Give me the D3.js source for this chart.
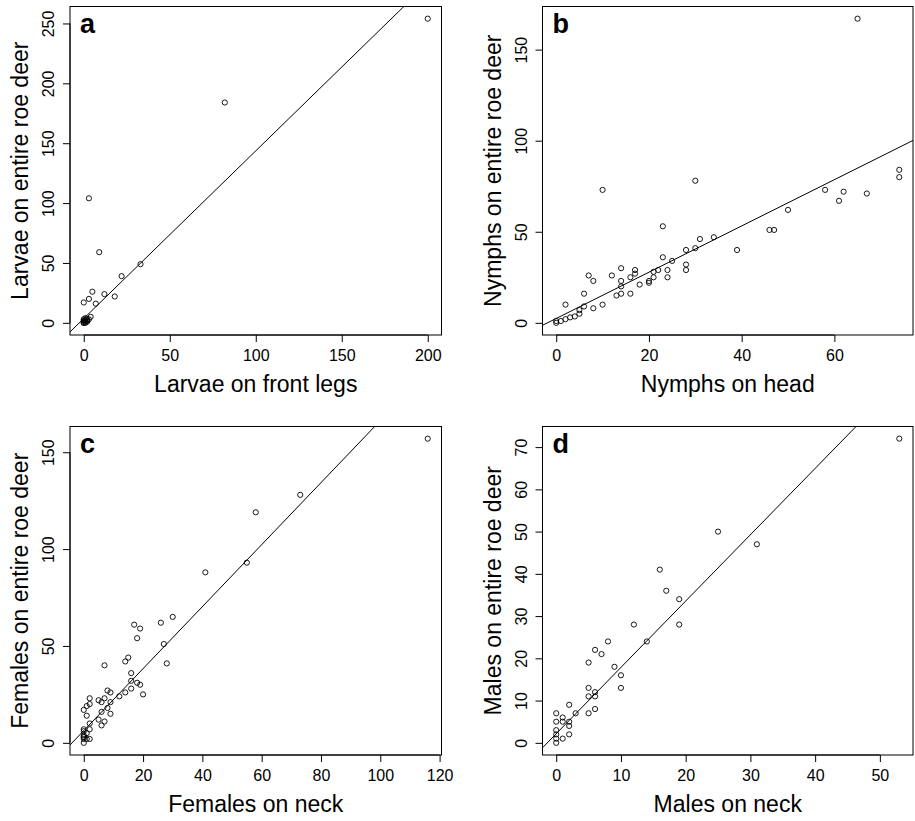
<!DOCTYPE html>
<html>
<head>
<meta charset="utf-8">
<script src="https://cdn.jsdelivr.net/npm/d3@7"></script>
<style>
  html, body { margin: 0; padding: 0; background: #fff; }
  svg { display: block; }
  text { font-family: "Liberation Sans", Arial, Helvetica, sans-serif; fill: #000; }
</style>
</head>
<body>
<svg id="chart" width="915" height="821"></svg>
<script>
// ---------- data ----------
const larvaeFront = [200, 82, 3, 9, 33, 22, 5, 12, 18, 3, 0, 7, 4,
  0, 0, 1, 1, 0, 1, 2, 0, 2, 1, 2, 0, 3];
const larvaeTotal = [254, 184, 104, 59, 49, 39, 26, 24, 22, 20, 17, 16, 5,
  0, 1, 0, 1, 2, 2, 2, 3, 3, 4, 1, 0, 3];

const nymphHead = [65, 10, 30, 74, 74, 58, 62, 61, 67, 50, 46, 47, 39, 34, 31, 30, 28, 28, 28, 23,
  23, 25, 24, 24, 22, 21, 21, 20, 20, 18, 17, 17, 16, 16, 14, 14, 14, 14, 13, 12,
  10, 7, 8, 8, 6, 6, 5, 5, 4, 3, 2, 2, 1, 0, 0];
const nymphTotal = [167, 73, 78, 84, 80, 73, 72, 67, 71, 62, 51, 51, 40, 47, 46, 41, 40, 32, 29, 53,
  36, 34, 29, 25, 29, 28, 25, 23, 22, 21, 29, 27, 25, 16, 30, 23, 20, 16, 15, 26,
  10, 26, 23, 8, 16, 9, 7, 5, 3.5, 3, 10, 2, 1, 0, 1];

const femaleNeck = [116, 73, 58, 41, 55, 30, 26, 17, 19, 18, 27, 28, 7, 14, 15, 16, 16, 16, 18, 19,
  20, 14, 12, 8, 9, 9, 8, 9, 7, 5, 6, 6, 5, 7, 6, 2, 2, 1, 0, 1,
  2, 2, 2, 0, 0, 0, 0, 0, 0, 0, 1, 1];
const femaleTotal = [157, 128, 119, 88, 93, 65, 62, 61, 59, 54, 51, 41, 40, 42, 44, 36, 32, 28, 31, 30,
  25, 26, 24, 27, 26, 21, 18, 15, 23, 22, 21, 16, 12, 11, 9, 23, 20, 19, 17, 14,
  10, 7, 2, 7, 6, 4, 3, 3, 2, 0, 5, 2];

const maleNeck = [53, 25, 31, 16, 17, 19, 19, 12, 14, 8, 6, 7, 5, 9, 10, 10, 5, 6, 5, 6,
  5, 6, 3, 2, 2, 2, 2, 1, 1, 1, 0, 0, 0, 0, 0, 0];
const maleTotal = [72, 50, 47, 41, 36, 34, 28, 28, 24, 24, 22, 21, 19, 18, 16, 13, 13, 12, 11, 11,
  7, 8, 7, 9, 5, 4, 2, 6, 5, 1, 7, 5, 3, 2, 1, 0];

// fitted lines: intercept, slope
const fitIntercepts = [3.6, 2.4, 6.3, 2.16];
const fitSlopes = [1.40, 1.27, 1.60, 1.57];

// tick values
const xTicksA = [0, 50, 100, 150, 200];
const yTicksA = [0, 50, 100, 150, 200, 250];
const xTicksB = [0, 20, 40, 60];
const yTicksB = [0, 50, 100, 150];
const xTicksC = [0, 20, 40, 60, 80, 100, 120];
const yTicksC = [0, 50, 100, 150];
const xTicksD = [0, 10, 20, 30, 40, 50];
const yTicksD = [0, 10, 20, 30, 40, 50, 60, 70];

const panelLetters = ["a", "b", "c", "d"];
const xTitles = ["Larvae on front legs", "Nymphs on head", "Females on neck", "Males on neck"];
const yTitles = ["Larvae on entire roe deer", "Nymphs on entire roe deer",
  "Females on entire roe deer", "Males on entire roe deer"];

// ---------- layout ----------
const svg = d3.select("#chart");
const boxes = [
  { x0: 70, x1: 441.5, y0: 6.5, y1: 335 },
  { x0: 542.5, x1: 913, y0: 6.5, y1: 335 },
  { x0: 70, x1: 441.5, y0: 426.5, y1: 755 },
  { x0: 542.5, x1: 913, y0: 426.5, y1: 755 }
];
const panels = [
  { xs: larvaeFront, ys: larvaeTotal, xt: xTicksA, yt: yTicksA },
  { xs: nymphHead, ys: nymphTotal, xt: xTicksB, yt: yTicksB },
  { xs: femaleNeck, ys: femaleTotal, xt: xTicksC, yt: yTicksC },
  { xs: maleNeck, ys: maleTotal, xt: xTicksD, yt: yTicksD }
];

function rDomain(vals) {
  const [lo, hi] = d3.extent(vals);
  const pad = (hi - lo) * 0.04;
  return [lo - pad, hi + pad];
}

panels.forEach((p, i) => {
  const b = boxes[i];
  const x = d3.scaleLinear().domain(rDomain(p.xs)).range([b.x0, b.x1]);
  const y = d3.scaleLinear().domain(rDomain(p.ys)).range([b.y1, b.y0]);
  const g = svg.append("g");

  const clipId = "clip" + i;
  g.append("clipPath").attr("id", clipId)
    .append("rect").attr("x", b.x0).attr("y", b.y0)
    .attr("width", b.x1 - b.x0).attr("height", b.y1 - b.y0);

  // fitted line
  const xd = x.domain();
  g.append("line")
    .attr("clip-path", `url(#${clipId})`)
    .attr("x1", x(xd[0])).attr("y1", y(fitIntercepts[i] + fitSlopes[i] * xd[0]))
    .attr("x2", x(xd[1])).attr("y2", y(fitIntercepts[i] + fitSlopes[i] * xd[1]))
    .attr("stroke", "#000").attr("stroke-width", 1);

  // points
  g.selectAll("circle.pt").data(p.xs.map((v, k) => [v, p.ys[k]]))
    .enter().append("circle").attr("class", "pt")
    .attr("cx", d => x(d[0])).attr("cy", d => y(d[1]))
    .attr("r", 2.6).attr("fill", "none").attr("stroke", "#000").attr("stroke-width", 0.9);

  // box
  g.append("rect").attr("x", b.x0).attr("y", b.y0)
    .attr("width", b.x1 - b.x0).attr("height", b.y1 - b.y0)
    .attr("fill", "none").attr("stroke", "#000").attr("stroke-width", 1);

  // x axis
  const xa = g.append("g").attr("transform", `translate(0,${b.y1})`)
    .call(d3.axisBottom(x).tickValues(p.xt).tickFormat(d3.format("d")).tickSize(7).tickSizeOuter(0));
  xa.select(".domain").attr("d", `M${x(p.xt[0])},0H${x(p.xt[p.xt.length - 1])}`);
  xa.selectAll("text").attr("y", 26).attr("dy", 0)
    .style("font-size", "16px").style("font-family", "Liberation Sans, Arial, sans-serif");

  // y axis
  const ya = g.append("g").attr("transform", `translate(${b.x0},0)`)
    .call(d3.axisLeft(y).tickValues(p.yt).tickFormat(d3.format("d")).tickSize(7).tickSizeOuter(0));
  ya.select(".domain").attr("d", `M0,${y(p.yt[0])}V${y(p.yt[p.yt.length - 1])}`);
  ya.selectAll("text").attr("x", 0).attr("y", -16).attr("dy", 0)
    .attr("text-anchor", "middle").attr("transform", "rotate(-90)")
    .style("font-size", "16px").style("font-family", "Liberation Sans, Arial, sans-serif");

  // titles
  g.append("text").attr("x", (b.x0 + b.x1) / 2).attr("y", b.y1 + 57)
    .attr("text-anchor", "middle").style("font-size", "23px").text(xTitles[i]);
  g.append("text")
    .attr("transform", `translate(${b.x0 - 42},${(b.y0 + b.y1) / 2}) rotate(-90)`)
    .attr("text-anchor", "middle").style("font-size", "23px").text(yTitles[i]);

  // panel letter
  g.append("text").attr("x", b.x0 + 10).attr("y", b.y0 + 26)
    .style("font-size", "27px").style("font-weight", "bold").text(panelLetters[i]);
});
</script>
</body>
</html>
